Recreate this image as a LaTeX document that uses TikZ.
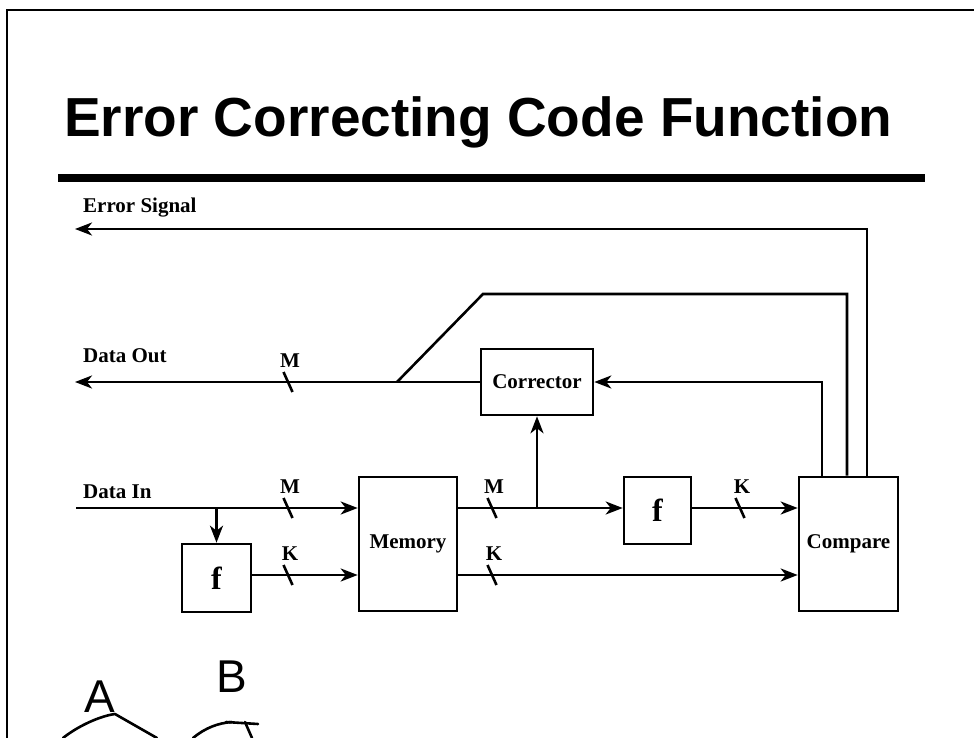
\documentclass[tikz,border=0pt]{standalone}
\usepackage{fontspec}
\setmainfont{Liberation Serif}
\newfontfamily\titlefont{Liberation Sans}
\usetikzlibrary{arrows.meta}
\begin{document}
\begin{tikzpicture}[x=1pt,y=-1pt,
  box/.style={draw, line width=2.6pt, inner sep=0pt, font=\bfseries\fontsize{21}{21}\selectfont},
  wire/.style={line width=2.6pt},
  arr/.style={wire, -{Stealth[length=17pt,width=13pt,inset=5pt]}},
  lbl/.style={font=\bfseries\fontsize{21}{21}\selectfont, anchor=base west, inner sep=0pt},
  bus/.style={font=\bfseries\fontsize{21}{21}\selectfont, inner sep=0pt},
  hand/.style={font=\titlefont\fontsize{46}{46}\selectfont, inner sep=0pt},
  handline/.style={line width=2.6pt, line cap=round, line join=round}
]
\useasboundingbox (0,0) rectangle (974,738);
% page border
\draw[line width=1.8pt] (7,738) -- (7,10) -- (974,10);
% title
\node[font=\titlefont\bfseries\fontsize{55}{55}\selectfont, anchor=base west, inner sep=0pt] (title) at (64,137) {Error Correcting Code Function};
\fill (58,174) rectangle (925,182);

% boxes
\node[box, minimum width=112pt, minimum height=66pt] (corr) at (537,382) {Corrector};
\node[box, minimum width=99pt, minimum height=134pt] (cmp) at (848.5,544) {Compare};
\node[box, minimum width=98pt, minimum height=134pt] (mem) at (408,544) {Memory};
\node[box, minimum width=69pt, minimum height=68pt, font=\bfseries\fontsize{32}{32}\selectfont] (f1) at (216.5,578) {f};
\node[box, minimum width=67pt, minimum height=67pt, font=\bfseries\fontsize{32}{32}\selectfont] (f2) at (657.5,510.5) {f};

% labels
\node[lbl] (les) at (83,212) {Error Signal};
\node[lbl] (ldo) at (83,362) {Data Out};
\node[lbl] (ldi) at (83,498) {Data In};

% coordinates
\coordinate (r1) at (0,508);
\coordinate (r2) at (0,575);
\coordinate (esT) at (867,229);
\coordinate (esE) at (75,229);
\coordinate (doE) at (75,382);
\coordinate (split) at (397,382);
\coordinate (bend) at (483,294);
\coordinate (bend2) at (847,294);
\coordinate (fb) at (822,382);
\coordinate (br) at (537,508);
\coordinate (diS) at (76,508);
\coordinate (dbr) at (216.5,508);

% error signal
\draw[arr] (cmp.north -| esT) -- (esT) -- (esE);
% data out
\draw[wire] (cmp.north -| bend2) -- (bend2) -- (bend) -- (split);
\draw[arr] (corr.west) -- (doE);
% feedback to corrector
\draw[arr] (cmp.north -| fb) -- (fb) -- (corr.east);
% memory outputs
\draw[arr] (mem.east |- r1) -- (f2.west |- r1);
\draw[arr] (f2.east |- r1) -- (cmp.west |- r1);
\draw[arr] (mem.east |- r2) -- (cmp.west |- r2);
\draw[arr] (br) -- (corr.south);
% data in
\draw[arr] (diS) -- (mem.west |- r1);
\draw[arr] (dbr) -- (f1.north);
\draw[arr] (f1.east |- r2) -- (mem.west |- r2);

% bus width marks
\foreach \n/\x/\y/\t in {a/288/382/M, b/288/508/M, c/288/575/K, d/492/508/M, e/492/575/K, g/740/508/K}{
  \draw[wire] (\x,\y) ++(-4.5,-10) -- ++(9,20);
  \node[bus] (bus\n) at (\x+2,\y-21) {\t};
}

% handwritten marks
\node[hand] (hA) at (100,697) {A};
\node[hand] (hB) at (232,677) {B};
\draw[handline] (63,738) .. controls (78,726) and (100,716) .. (115,714) -- (157,738);
\draw[handline] (193,738) .. controls (205,728) and (218,723) .. (232,722);
\draw[handline] (226,722) -- (258,724);
\draw[handline] (245,722) -- (252,738);
\end{tikzpicture}
\end{document}
